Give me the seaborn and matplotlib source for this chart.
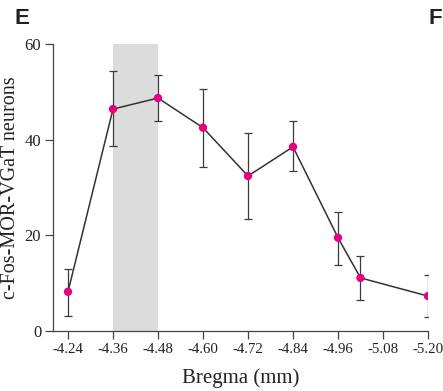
import numpy as np
import pandas as pd
import matplotlib
matplotlib.use("Agg")
import matplotlib.pyplot as plt
import seaborn as sns

# data
bregma = [-4.24, -4.36, -4.48, -4.60, -4.72, -4.84, -4.96, -5.02, -5.20]
neurons = [8.2, 46.4, 48.7, 42.5, 32.4, 38.5, 19.5, 11.1, 7.3]
err_hi = [13.0, 54.4, 53.6, 50.6, 41.4, 43.9, 24.9, 15.7, 11.7]
err_lo = [3.1, 38.7, 43.9, 34.3, 23.4, 33.5, 13.8, 6.5, 2.9]
xticks = [-4.24, -4.36, -4.48, -4.60, -4.72, -4.84, -4.96, -5.08, -5.20]
yticks = [0, 20, 40, 60]
shade = (-4.36, -4.48)

df = pd.DataFrame({"bregma": bregma, "neurons": neurons})

sns.set_style("ticks")
plt.rcParams["font.family"] = ["Liberation Serif", "DejaVu Serif"]
plt.rcParams["axes.unicode_minus"] = False

fig = plt.figure(figsize=(4.43, 3.91), dpi=100)
ax = fig.add_axes([53 / 443, 1 - 331 / 391, (428 - 53) / 443, (331 - 44) / 391])

ax.axvspan(shade[0], shade[1], ymin=0, ymax=1, color="#dcdcdc", lw=0, zorder=0)

yerr = [np.array(neurons) - np.array(err_lo), np.array(err_hi) - np.array(neurons)]
ax.errorbar(bregma, neurons, yerr=yerr, fmt="none", ecolor="#3a3a3a",
            elinewidth=0.9, capsize=2.6, capthick=0.9, zorder=2)
sns.lineplot(data=df, x="bregma", y="neurons", color="#333333", lw=1.1, ax=ax, zorder=3)
sns.scatterplot(data=df, x="bregma", y="neurons", color="#e6007e", s=36,
                edgecolor="none", ax=ax, zorder=4)

ax.set_xlim(-4.20, -5.20)
ax.set_ylim(0, 60)
ax.set_xticks(xticks)
ax.set_xticklabels([f"{t:.2f}" for t in xticks])
ax.set_yticks(yticks)
ax.tick_params(axis="both", direction="out", length=5.5,
               width=0.9, color="#444444", labelcolor="#222222", pad=3)
ax.tick_params(axis="x", labelsize=10.7)
ax.tick_params(axis="y", labelsize=12)
ax.set_xlabel("Bregma (mm)", fontsize=15, color="#222222", labelpad=9)
ax.set_ylabel("c-Fos-MOR-VGaT neurons", fontsize=14.5, color="#222222")
ax.yaxis.set_label_coords(-0.088, 0.5)
for s in ["top", "right"]:
    ax.spines[s].set_visible(False)
for s in ["left", "bottom"]:
    ax.spines[s].set_color("#444444")
    ax.spines[s].set_linewidth(0.9)

fig.text(22 / 443, 1 - 19 / 391, "E", fontsize=16, fontweight="bold",
         family="Liberation Sans", color="#222222", ha="center", va="center")
fig.text(435 / 443, 1 - 19 / 391, "F", fontsize=16, fontweight="bold",
         family="Liberation Sans", color="#222222", ha="center", va="center")

fig.savefig("out.png", dpi=100)
